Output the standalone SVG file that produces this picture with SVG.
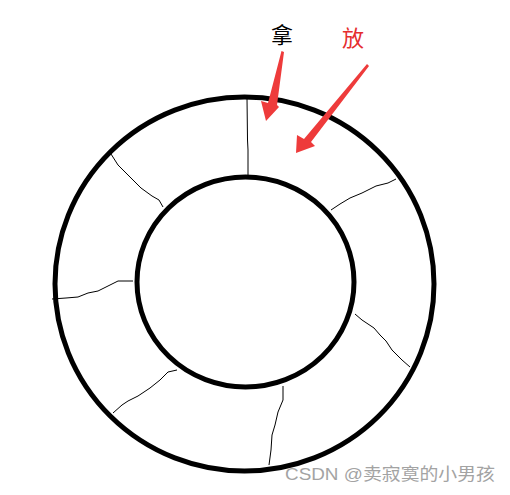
<svg xmlns="http://www.w3.org/2000/svg" width="510" height="495" viewBox="0 0 510 495">
<style>
.ring{fill:none;stroke:#000;stroke-width:5}
.div{fill:none;stroke:#000;stroke-width:1}
.arrow{fill:#ee3b3b;stroke:none}
.lbl{font-family:"Noto Sans CJK SC","Liberation Sans",sans-serif;font-size:22px}
.wm{font-family:"Liberation Sans","Noto Sans CJK SC",sans-serif;font-size:17px;fill:#a3a3a3}
</style>
<rect width="510" height="495" fill="#fff"/>
<g id="outer-ring"><ellipse class="ring" cx="244.5" cy="284" rx="189.5" ry="187"/></g>
<g id="inner-ring"><ellipse class="ring" cx="245.5" cy="282" rx="108.5" ry="105"/></g>
<g id="dividers">
<polyline class="div" points="247,98 247.5,140 248,150 248,176"/>
<polyline class="div" points="111,154 118,165 130,177 141,188 152,196 159,200 163,207"/>
<polyline class="div" points="396,179 388,183 376,186 362,193 350,198 340,204 331,210"/>
<polyline class="div" points="52,299 66,298 78,297 88,293 98,291 108,286 118,281 133,281"/>
<polyline class="div" points="355,314 362,320 368,324 374,328 380,335 386,341 392,350 402,360 410,367"/>
<polyline class="div" points="177,370 168,372 160,380 150,388 138,396 128,401 122,405 113,413"/>
<polyline class="div" points="283,386 283,400 278,412 275,425 272,435 271,450 269,465"/>
</g>
<g id="arrow-take"><polygon class="arrow" points="281.5,51 284,52 277,105 279,107 266,121 261,101 268,103"/></g>
<g id="arrow-put"><polygon class="arrow" points="367,64 369,66 311,142 315,146 296,153 297,135 304,139"/></g>
<g id="label-take"><text class="lbl" x="282" y="43" text-anchor="middle" fill="#000">拿</text></g>
<g id="label-put"><text class="lbl" x="353" y="46" text-anchor="middle" fill="#e52d2d">放</text></g>
<text class="wm" x="285" y="480" textLength="210" lengthAdjust="spacingAndGlyphs">CSDN @卖寂寞的小男孩</text>
</svg>
